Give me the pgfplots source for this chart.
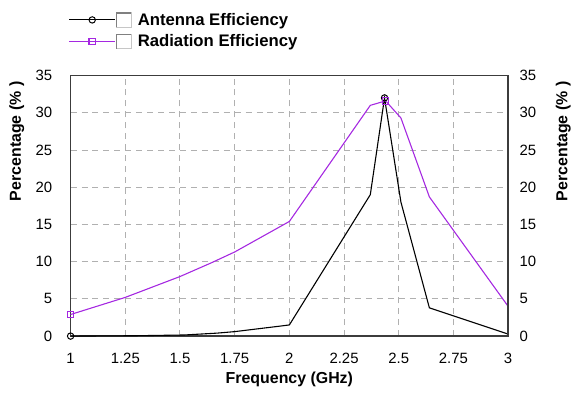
\documentclass[border=0pt]{standalone}
\usepackage{pgfplots}
\pgfplotsset{compat=1.18}
\usepackage{fontspec}
\setmainfont{Liberation Sans}
\definecolor{purp}{RGB}{165,40,225}
\definecolor{axgray}{RGB}{60,60,60}
\definecolor{gridgray}{RGB}{176,176,176}
\pgfplotsset{legend image code/.code={
    \draw[#1, mark=none] (0bp,0bp) -- (46bp,0bp);
    \draw[#1, mark indices={1}] plot coordinates {(23bp,0bp)};
    \draw[gray!45, line width=1bp, fill=white] (47bp,-7.5bp) rectangle (62bp,7.5bp);
    \draw[gray, line width=1.6bp] (47.5bp,-7.5bp) -- (47.5bp,7bp) -- (62bp,7bp);
  }}
\pgfplotsset{myaxis/.style={
  scale only axis, width=440bp, height=262bp,
  xmin=1, xmax=3, ymin=0, ymax=35,
  xtick={1,1.25,1.5,1.75,2,2.25,2.5,2.75,3},
  ytick={0,5,10,15,20,25,30,35},
  major tick length=0pt,
  /pgf/number format/assume math mode=true,
  tick label style={font=\fontsize{15bp}{17bp}\selectfont},
  label style={font=\bfseries\fontsize{16bp}{19bp}\selectfont},
  axis line style={axgray, line width=1.3bp},
  clip=false,
}}
\begin{document}
\begin{tikzpicture}
\begin{axis}[myaxis,
  grid=major,
  grid style={gridgray, dash pattern=on 6bp off 5bp, line width=1bp},
  xlabel={Frequency (GHz)},
  xlabel style={at={(axis description cs:0.5,0)}, anchor=north, yshift=-33bp},
  ylabel={Percentage (\% )},
  ylabel style={at={(axis description cs:-0.1227,0.99)}, anchor=east, rotate=0},
  xticklabel style={yshift=-14bp},
  yticklabel style={xshift=-15bp},
  legend style={at={(axis description cs:0,1)}, anchor=north west, xshift=-2bp, yshift=65bp,
    draw=none, fill=none, row sep=4bp, inner sep=0pt,
    font=\bfseries\fontsize{16.8bp}{19bp}\selectfont,
    nodes={inner sep=2bp},
    /tikz/every odd column/.append style={column sep=4bp}},
  legend cell align=left,
]
\addplot[black, line width=1.1bp, mark=o, mark size=3.2bp, mark indices={1,9},
  mark options={fill=white, line width=1bp}]
coordinates {
(1,0) (1.3,0.05) (1.52,0.15) (1.67,0.4) (1.75,0.6) (1.96,1.35) (2.0,1.5)
(2.37,19) (2.435,32) (2.51,18) (2.64,3.8) (3,0.27)
};
\addlegendentry{Antenna Efficiency}
\addplot[purp, line width=1.1bp, mark=square, mark size=3.2bp, mark indices={1,8},
  mark options={fill=none, line width=1.1bp}]
coordinates {
(1,2.9) (1.25,5.2) (1.5,8.0) (1.64,9.8) (1.75,11.3) (2.0,15.4)
(2.37,31.0) (2.44,31.6) (2.51,29.3) (2.64,18.7) (3,4.0)
};
\addlegendentry{Radiation Efficiency}
\end{axis}
\begin{axis}[myaxis,
  axis x line=none, axis y line*=right,
  ylabel={Percentage (\% )},
  ylabel style={at={(axis description cs:1.126,0.99)}, anchor=east, rotate=0},
  yticklabel style={xshift=8bp},
]
\addplot[draw=none] coordinates {(1,0)};
\end{axis}
\path[use as bounding box] (current axis.south west) ++(-71bp,-61bp) rectangle ++(574bp,399bp);
\end{tikzpicture}
\end{document}
